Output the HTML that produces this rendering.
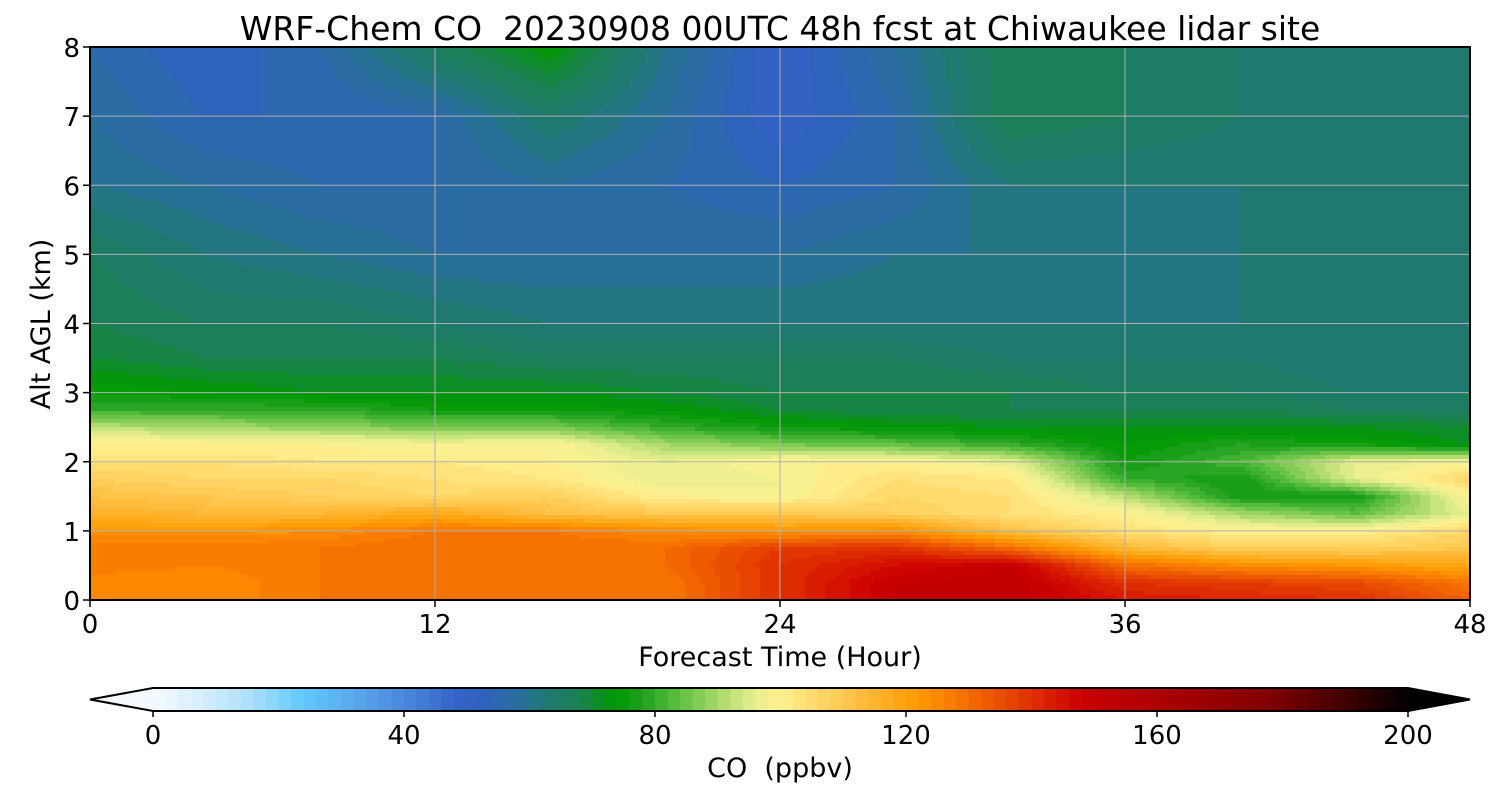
<!DOCTYPE html>
<html><head><meta charset="utf-8"><style>
html,body{margin:0;padding:0;background:#fff;}
svg{display:block;font-family:"DejaVu Sans","Liberation Sans",sans-serif;}
</style></head><body>
<svg id="chart" width="1500" height="800" viewBox="0 0 1500 800" xmlns="http://www.w3.org/2000/svg">
<text x="780" y="40" font-size="33" text-anchor="middle" xml:space="preserve">WRF-Chem CO  20230908 00UTC 48h fcst at Chiwaukee lidar site</text>
<g id="field"></g>
<g id="grid"></g>
<rect x="90" y="47" width="1380" height="553" fill="none" stroke="#000" stroke-width="2"/>
<g id="axes"></g>
<text x="780" y="666" font-size="27" text-anchor="middle">Forecast Time (Hour)</text>
<text transform="translate(50,324) rotate(-90)" font-size="27" text-anchor="middle">Alt AGL (km)</text>
<g id="cbar"></g>
<text x="780" y="777" font-size="27" text-anchor="middle" xml:space="preserve">CO  (ppbv)</text>
</svg>
<script>
const times = [0,4,8,12,16,20,24,28,32,36,40,44,48];
const alts = [0,0.25,0.5,0.75,1,1.25,1.5,1.75,2,2.25,2.5,2.75,3,3.5,4,5,6,7,8];
const co = [
[124,124,128,130,128,128,140,150,152,144,142,140,132],
[124,124,128,130,128,128,140,150,152,140,138,136,128],
[128,126,128,130,128,130,140,146,150,130,124,122,118],
[128,128,128,130,130,130,138,140,130,114,108,108,110],
[122,122,124,128,128,124,122,124,112,104,100,100,106],
[116,114,114,118,112,110,110,108,104,100,90,84,96],
[112,110,108,106,108,100,98,106,104,92,76,76,100],
[108,106,106,104,102,96,98,104,102,80,76,96,106],
[104,104,102,102,100,96,100,100,96,76,82,96,98],
[100,100,100,98,100,90,86,84,80,74,78,76,72],
[92,90,88,86,86,80,76,74,72,72,72,72,70],
[80,80,80,76,76,74,70,68,68,68,68,66,66],
[76,74,72,72,72,70,68,68,68,66,66,64,64],
[70,68,68,68,66,66,66,66,64,64,64,62,62],
[68,66,66,64,62,62,62,62,62,62,62,62,62],
[66,62,60,58,58,58,58,60,60,60,62,62,62],
[60,58,56,56,58,56,54,56,62,62,62,62,62],
[58,54,54,56,64,58,50,56,68,66,64,62,62],
[56,52,56,66,74,60,50,58,68,66,64,62,62]
];
const xTicks = [0,12,24,36,48];
const yTicks = [0,1,2,3,4,5,6,7,8];
const cbTicks = [0,40,80,120,160,200];
const cmapVals = [0,8,16,24,32,40,48,52,58,62,68,74,78,84,90,96,100,110,122,132,140,148,152,166,178,190,200];
const cmapCols = ["#f5faff","#d4eefc","#a8defc","#60c8fc","#5aa8ec","#4a88dc","#3464c8","#3060c0","#2a6ea0","#207878","#1a8050","#009900","#20a020","#60c040","#a8d868","#e8f090","#fff090","#ffc850","#ff9900","#f06000","#e03000","#cc0000","#c00000","#a00000","#800000","#400000","#000000"];

const NS="http://www.w3.org/2000/svg";
const X0=90,X1=1470,Y0=600,Y1=47;
function xScale(t){return X0+(t-times[0])/(times[times.length-1]-times[0])*(X1-X0);}
function yScale(a){return Y0-(a-alts[0])/(alts[alts.length-1]-alts[0])*(Y0-Y1);}
function cbScale(v){return 153+v/200*(1408-153);}
function hex(h){return [1,3,5].map(i=>parseInt(h.substr(i,2),16));}
function colorFor(v){
  if(v<=cmapVals[0])return cmapCols[0];
  if(v>=cmapVals[cmapVals.length-1])return cmapCols[cmapCols.length-1];
  let i=0;while(cmapVals[i+1]<v)i++;
  const f=(v-cmapVals[i])/(cmapVals[i+1]-cmapVals[i]);
  const a=hex(cmapCols[i]),b=hex(cmapCols[i+1]);
  return "rgb("+a.map((c,k)=>Math.round(c+(b[k]-c)*f)).join(",")+")";
}
function band(v){return Math.floor(v/2)*2+1;}
function locate(arr,v){let i=0;while(i<arr.length-2&&arr[i+1]<v)i++;return [i,Math.min(1,Math.max(0,(v-arr[i])/(arr[i+1]-arr[i])))];}
function sample(t,a){
  const [i,ft]=locate(times,t),[j,fa]=locate(alts,a);
  const v00=co[j][i],v01=co[j][i+1],v10=co[j+1][i],v11=co[j+1][i+1];
  return (v00*(1-ft)+v01*ft)*(1-fa)+(v10*(1-ft)+v11*ft)*fa;
}
function mk(tag,attrs,parent){const e=document.createElementNS(NS,tag);for(const k in attrs)e.setAttribute(k,attrs[k]);parent.appendChild(e);return e;}

const field=document.getElementById('field');
const cw=5,ch=4;
for(let py=Y1;py<Y0;py+=ch){
  const a=(Y0-(py+ch/2))/(Y0-Y1)*(alts[alts.length-1]-alts[0])+alts[0];
  let runStart=X0,runCol=null;
  for(let px=X0;px<=X1;px+=cw){
    let col=null;
    if(px<X1){const t=(px+cw/2-X0)/(X1-X0)*(times[times.length-1]-times[0])+times[0];col=colorFor(band(sample(t,a)));}
    if(col!==runCol){
      if(runCol!==null){
        const r=mk('rect',{x:runStart,y:py,width:Math.min(px,X1)-runStart+0.6,height:Math.min(ch,Y0-py)+0.6,fill:runCol},field);
        
        
      }
      runStart=px;runCol=col;
    }
  }
}
const grid=document.getElementById('grid');
xTicks.slice(1,-1).forEach(t=>{const l=mk('line',{x1:xScale(t),x2:xScale(t),y1:Y1,y2:Y0,stroke:'#b0b0b0','stroke-width':1},grid);

});
yTicks.slice(1,-1).forEach(a=>{const l=mk('line',{x1:X0,x2:X1,y1:yScale(a),y2:yScale(a),stroke:'#b0b0b0','stroke-width':1},grid);

});
const axes=document.getElementById('axes');
xTicks.forEach(t=>{const x=xScale(t);mk('line',{x1:x,x2:x,y1:Y0,y2:Y0+7,stroke:'#000','stroke-width':1.5},axes);
const tx=mk('text',{x:x,y:Y0+33,'font-size':26,'text-anchor':'middle'},axes);tx.textContent=t;

});
yTicks.forEach(a=>{const y=yScale(a);mk('line',{x1:X0-7,x2:X0,y1:y,y2:y,stroke:'#000','stroke-width':1.5},axes);
const tx=mk('text',{x:X0-10,y:y+10,'font-size':26,'text-anchor':'end'},axes);tx.textContent=a;

});
const cb=document.getElementById('cbar');
const cy0=688,cy1=711;
mk('polygon',{points:`153,${cy0} 90,${(cy0+cy1)/2} 153,${cy1}`,fill:colorFor(-1),stroke:'none'},cb);
mk('polygon',{points:`1408,${cy0} 1470,${(cy0+cy1)/2} 1408,${cy1}`,fill:colorFor(201),stroke:'none'},cb);
for(let v=0;v<200;v+=2){const r=mk('rect',{x:cbScale(v),y:cy0,width:cbScale(v+2)-cbScale(v)+0.5,height:cy1-cy0,fill:colorFor(v+1)},cb);

}
mk('polygon',{points:`90,${(cy0+cy1)/2} 153,${cy0} 1408,${cy0} 1470,${(cy0+cy1)/2} 1408,${cy1} 153,${cy1}`,fill:'none',stroke:'#000','stroke-width':2},cb);
cbTicks.forEach(v=>{const x=cbScale(v);mk('line',{x1:x,x2:x,y1:cy1,y2:cy1+6,stroke:'#000','stroke-width':1.5},cb);
const tx=mk('text',{x:x,y:744,'font-size':26,'text-anchor':'middle'},cb);tx.textContent=v;

});
</script>
</body></html>
